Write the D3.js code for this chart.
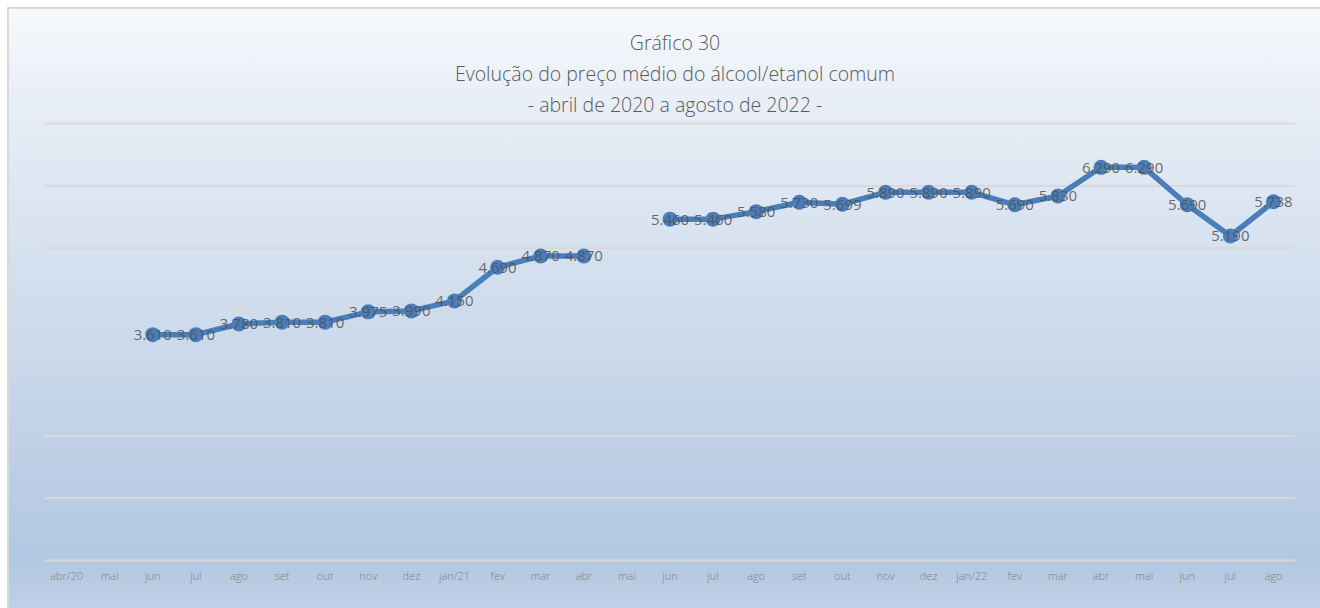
<!DOCTYPE html>
<html>
<head>
<meta charset="utf-8">
<script src="https://cdn.jsdelivr.net/npm/d3@7"></script>
<style>
  body { margin: 0; background: #ffffff; }
  svg { display: block; font-family: "Open Sans", "Noto Sans", sans-serif; }
</style>
</head>
<body>
<script>

// Months (abril de 2020 a agosto de 2022)
var months = ["abr/20", "mai", "jun", "jul", "ago", "set", "out", "nov", "dez", "jan/21",
              "fev", "mar", "abr", "mai", "jun", "jul", "ago", "set", "out", "nov",
              "dez", "jan/22", "fev", "mar", "abr", "mai", "jun", "jul", "ago"];

// Preço médio do álcool/etanol comum (null = sem dado)
var prices = [null, null, 3.610, 3.610, 3.780, 3.810, 3.810, 3.975, 3.990, 4.150,
              4.690, 4.870, 4.870, null, 5.460, 5.460, 5.580, 5.730, 5.699, 5.890,
              5.890, 5.890, 5.690, 5.830, 6.290, 6.290, 5.690, 5.190, 5.738];

var priceLabels = ["", "", "3.610", "3.610", "3.780", "3.810", "3.810", "3.975", "3.990", "4.150",
                   "4.690", "4.870", "4.870", "", "5.460", "5.460", "5.580", "5.730", "5.699", "5.890",
                   "5.890", "5.890", "5.690", "5.830", "6.290", "6.290", "5.690", "5.190", "5.738"];

var yTicks = [0, 1, 2, 3, 4, 5, 6, 7];

var titleLines = ["Gráfico 30",
                  "Evolução do preço médio do álcool/etanol comum",
                  "- abril de 2020 a agosto de 2022 -"];

var data = months.map(function (m, i) {
    return { key: i, month: m, value: prices[i], label: priceLabels[i] };
});


// Lets do some plotting
var W = 1320, H = 608;
var margin = {top: 123, right: 25, bottom: 48, left: 45},
    width = W - margin.left - margin.right,
    height = H - margin.top - margin.bottom;

var svg = d3.select("body").append("svg")
            .attr("width", W)
            .attr("height", H);

// background gradient
var grad = svg.append("defs").append("linearGradient")
              .attr("id", "bg")
              .attr("x1", 0).attr("y1", 0).attr("x2", 0).attr("y2", 1);
grad.append("stop").attr("offset", "0%").attr("stop-color", "#f6f9fc");
grad.append("stop").attr("offset", "20%").attr("stop-color", "#e4ebf5");
grad.append("stop").attr("offset", "88%").attr("stop-color", "#b2c7e1");
grad.append("stop").attr("offset", "100%").attr("stop-color", "#c6d6ea");

svg.append("rect")
   .attr("x", 8).attr("y", 8)
   .attr("width", W + 20).attr("height", H + 20)
   .attr("fill", "url(#bg)")
   .attr("stroke", "#d9d9d9")
   .attr("stroke-width", 2);

// title
svg.append("g")
   .selectAll("text")
   .data(titleLines)
   .join("text")
   .attr("x", 675)
   .attr("y", function (d, i) { return 50 + i * 31; })
   .attr("text-anchor", "middle")
   .attr("fill", "#595959")
   .attr("font-size", 19.5)
   .attr("font-weight", 300)
   .text(function (d) { return d; });

var g = svg.append("g")
           .attr("transform", "translate(" + margin.left + "," + margin.top + ")");

var x = d3.scaleBand().domain(data.map(function (d) { return d.key; })).range([0, width]);
var y = d3.scaleLinear().domain([0, 7]).range([height, 0]);

// gridlines
g.append("g")
 .attr("class", "y grid")
 .call(d3.axisLeft(y).tickValues(yTicks).tickSize(-width).tickFormat(""))
 .call(function (s) {
     s.select(".domain").remove();
     s.selectAll(".tick line").attr("stroke", "#d9d9d9").attr("stroke-width", 2);
 });

// x axis labels
g.append("g")
 .attr("class", "x axis")
 .attr("transform", "translate(0," + height + ")")
 .call(d3.axisBottom(x).tickSize(0).tickPadding(12)
         .tickFormat(function (k) { return months[k]; }))
 .call(function (s) {
     s.select(".domain").remove();
     s.selectAll("text")
      .attr("fill", "#7f7f7f")
      .attr("font-size", 11)
      .attr("font-weight", 300)
      .attr("font-family", "\"Open Sans\", sans-serif");
 });

var cx = function (d) { return x(d.key) + x.bandwidth() / 2; };

// line with gaps
var line = d3.line()
             .defined(function (d) { return d.value != null; })
             .x(cx)
             .y(function (d) { return y(d.value); });

g.append("path")
 .datum(data)
 .attr("fill", "none")
 .attr("stroke", "#4a7ebb")
 .attr("stroke-width", 5.5)
 .attr("stroke-linejoin", "round")
 .attr("d", line);

var pts = data.filter(function (d) { return d.value != null; });

g.selectAll(".dot")
 .data(pts)
 .join("circle")
 .attr("class", "dot")
 .attr("cx", cx)
 .attr("cy", function (d) { return y(d.value); })
 .attr("r", 7.5)
 .attr("fill", "#4a7ebb");

// data labels, centred on the points
g.selectAll(".lbl")
 .data(pts)
 .join("text")
 .attr("class", "lbl")
 .attr("x", cx)
 .attr("y", function (d) { return y(d.value); })
 .attr("dy", "0.36em")
 .attr("text-anchor", "middle")
 .attr("fill", "#505050")
 .attr("fill-opacity", 0.85)
 .attr("font-size", 15)
 .text(function (d) { return d.label; });

</script>
</body>
</html>
